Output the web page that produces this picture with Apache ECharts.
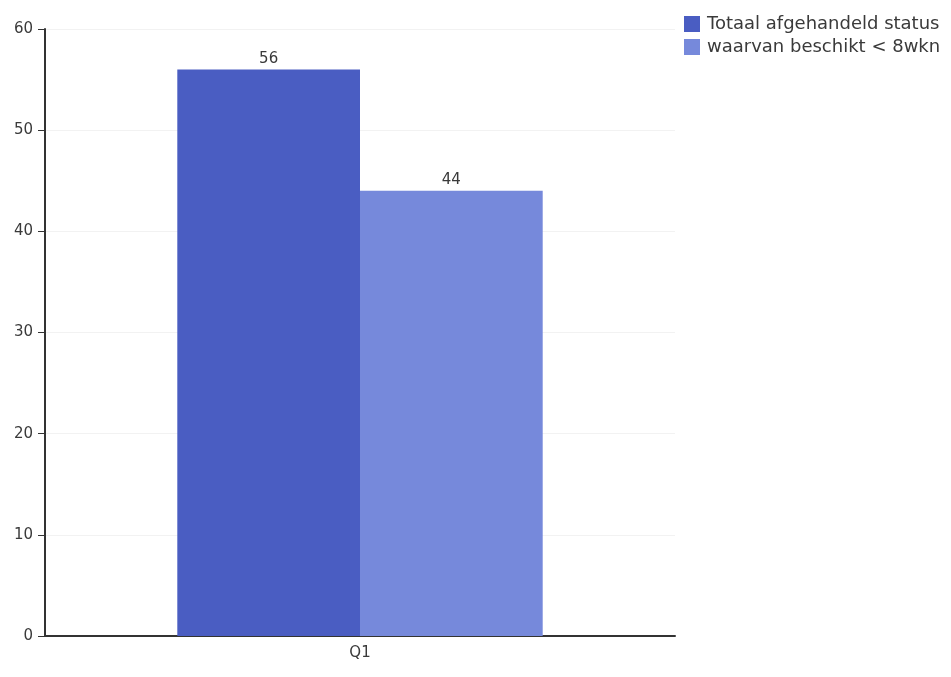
<!DOCTYPE html>
<html><head><meta charset="utf-8">
<script src="https://cdn.jsdelivr.net/npm/echarts@6/dist/echarts.min.js"></script>
<style>html,body{margin:0;padding:0;background:#fff}#c{width:951px;height:677px}</style>
</head><body><div id="c"></div>
<script>
const categories = ['Q1'];
const seriesNames = ['Totaal afgehandeld status', 'waarvan beschikt < 8wkn'];
const totaal = [56];
const beschikt = [44];
const colors = ['#4a5dc2', '#7689db'];

const chart = echarts.init(document.getElementById('c'));
const font = 'DejaVu Sans, Liberation Sans, Arial, sans-serif';
chart.setOption({
  animation: false,
  color: colors,
  grid: { left: 45, right: 276, top: 29, bottom: 41 },
  legend: {
    orient: 'vertical', left: 679, top: 10, itemWidth: 16, itemHeight: 16, itemGap: 5,
    textStyle: { fontFamily: font, fontSize: 18, color: '#3a3a3a', padding: [0, 0, 0, 2] },
    icon: 'rect',
    data: seriesNames
  },
  xAxis: {
    type: 'category', data: categories,
    axisLine: { lineStyle: { color: '#333', width: 2 } },
    axisTick: { alignWithLabel: true, length: 7, lineStyle: { color: '#333' } },
    axisLabel: { fontFamily: font, fontSize: 15, color: '#3a3a3a', margin: 10 }
  },
  yAxis: {
    type: 'value', min: 0, max: 60, interval: 10,
    axisLine: { show: true, lineStyle: { color: '#333', width: 2 } },
    axisTick: { show: true, length: 7, lineStyle: { color: '#333' } },
    axisLabel: { fontFamily: font, fontSize: 15, color: '#3a3a3a', margin: 12 },
    splitLine: { lineStyle: { color: '#f2f2f2' } }
  },
  series: [
    { name: seriesNames[0], type: 'bar', data: totaal, barGap: '0%', barCategoryGap: '42%',
      label: { show: true, position: 'top', fontFamily: font, fontSize: 15, color: '#3a3a3a', distance: 3 } },
    { name: seriesNames[1], type: 'bar', data: beschikt,
      label: { show: true, position: 'top', fontFamily: font, fontSize: 15, color: '#3a3a3a', distance: 3 } }
  ]
});
</script></body></html>
